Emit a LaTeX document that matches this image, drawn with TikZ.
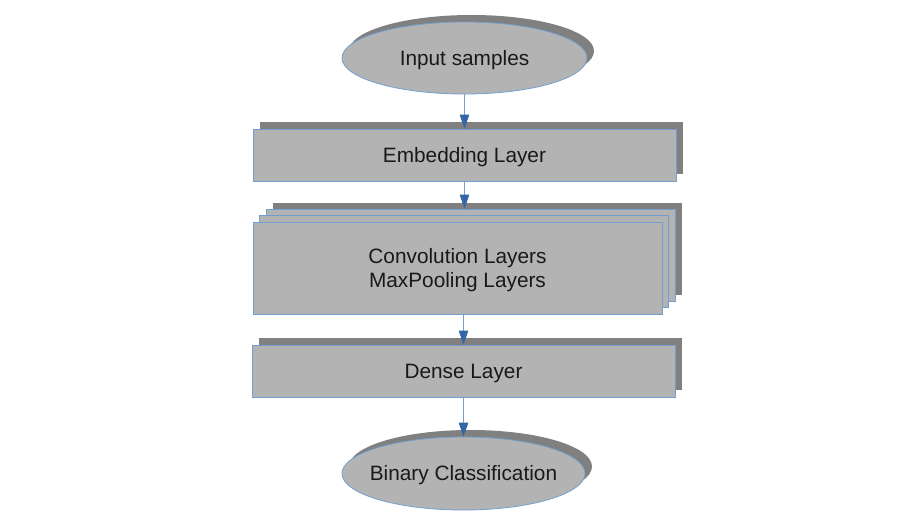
\documentclass[tikz,border=0pt]{standalone}
\usepackage{fontspec}
\setmainfont{Liberation Sans}
\usetikzlibrary{shapes.geometric,arrows.meta}
\definecolor{boxfill}{HTML}{B3B3B3}
\definecolor{shadowc}{HTML}{808080}
\definecolor{edgec}{HTML}{729FCF}
\definecolor{tipc}{HTML}{3465A4}
\begin{document}
\begin{tikzpicture}[x=1pt,y=-1pt,
  lbl/.style={font=\fontsize{20.8}{24}\selectfont, align=center, text=black!90, yshift=-2pt},
  shrect/.style={rectangle, fill=shadowc, draw=none, inner sep=0pt},
  mrect/.style={rectangle, fill=boxfill, draw=edgec, line width=0.8pt, inner sep=0pt},
  shell/.style={ellipse, fill=shadowc, draw=none, inner sep=0pt},
  mell/.style={ellipse, fill=boxfill, draw=edgec, line width=0.8pt, inner sep=0pt},
  conn/.style={draw=edgec, line width=0.8pt, -{Triangle[length=14pt,width=9.5pt,color=tipc,fill=tipc]}}
]
\useasboundingbox (0,0) rectangle (922,523);
% Input samples
\node[shell, minimum width=245pt, minimum height=72pt] (insh) at (471.5,51) {};
\node[mell, minimum width=245pt, minimum height=72pt, label={[lbl]center:Input samples}] (input) at (464.5,58) {};
% Embedding
\node[shrect, minimum width=423pt, minimum height=52pt] (embsh) at (471.5,148) {};
\node[mrect, minimum width=423pt, minimum height=52pt, label={[lbl]center:Embedding Layer}] (embed) at (464.5,155) {};
% Convolution stack
\node[shrect, minimum width=409pt, minimum height=92pt] (convsh) at (477.5,248.5) {};
\node[mrect, minimum width=409pt, minimum height=92pt] (l3) at (470.5,255) {};
\node[mrect, minimum width=409pt, minimum height=92pt] (l2) at (464,261.5) {};
\node[mrect, minimum width=409pt, minimum height=92pt, label={[lbl]center:Convolution Layers\\MaxPooling Layers}] (conv) at (457.5,268) {};
% Dense
\node[shrect, minimum width=423pt, minimum height=52pt] (densh) at (470.5,364) {};
\node[mrect, minimum width=423pt, minimum height=52pt, label={[lbl]center:Dense Layer}] (dense) at (463.5,371) {};
% Binary
\node[shell, minimum width=243pt, minimum height=73pt] (binsh) at (470.5,466.5) {};
\node[mell, minimum width=243pt, minimum height=73pt, label={[lbl]center:Binary Classification}] (binary) at (463.5,473.5) {};
% connectors
\draw[conn] (input.south) -- (embed.north);
\draw[conn] (embed.south) -- (embed.south |- l3.north);
\draw[conn] (dense.north |- conv.south) -- (dense.north);
\draw[conn] (dense.south) -- (binary.north);
\end{tikzpicture}
\end{document}
